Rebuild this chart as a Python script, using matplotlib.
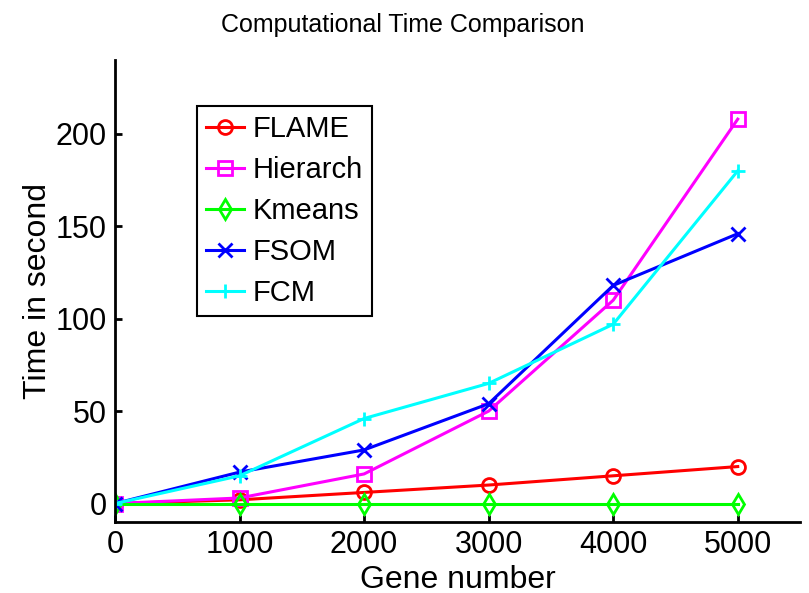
import matplotlib
matplotlib.use("Agg")
import matplotlib.pyplot as plt

plt.rcParams["font.family"] = ["Liberation Sans", "DejaVu Sans"]

genes = [0, 1000, 2000, 3000, 4000, 5000]
flame = [0, 2, 6, 10, 15, 20]
hierarch = [0, 3, 16, 50, 110, 208]
kmeans = [0, 0, 0, 0, 0, 0]
fsom = [0, 17, 29, 54, 118, 146]
fcm = [0, 15, 46, 65, 97, 180]

series = [
    ("FLAME", flame, "#ff0000", "o"),
    ("Hierarch", hierarch, "#ff00ff", "s"),
    ("Kmeans", kmeans, "#00ff00", "d"),
    ("FSOM", fsom, "#0000ff", "x"),
    ("FCM", fcm, "#00ffff", "+"),
]

fig = plt.figure(figsize=(8.09, 5.93), dpi=100)
ax = fig.add_axes([115 / 809, 71 / 593, 685 / 809, 462 / 593])

for name, vals, color, marker in series:
    ax.plot(genes, vals, color=color, marker=marker, markersize=10,
            markerfacecolor="none", markeredgewidth=2, linewidth=2.2, label=name)

ax.set_xlim(0, 5500)
ax.set_ylim(-10, 240)
ax.set_xticks([0, 1000, 2000, 3000, 4000, 5000])
ax.set_yticks([0, 50, 100, 150, 200])
ax.spines["top"].set_visible(False)
ax.spines["right"].set_visible(False)
for s in ("left", "bottom"):
    ax.spines[s].set_linewidth(2)
ax.tick_params(direction="in", length=5, width=2, labelsize=22, pad=6)

ax.set_xlabel("Gene number", fontsize=23, labelpad=3)
ax.set_ylabel("Time in second", fontsize=23, labelpad=2)
ax.set_title("Computational Time Comparison", fontsize=18, pad=20, x=0.42)

leg = ax.legend(loc="upper left", bbox_to_anchor=(0.12, 0.90), fontsize=21,
                handlelength=1.3, handletextpad=0.3, labelspacing=0.45,
                borderpad=0.3, borderaxespad=0, fancybox=False, framealpha=1)
leg.get_frame().set_edgecolor("black")
leg.get_frame().set_linewidth(1.5)

fig.savefig("out.png", dpi=100)
